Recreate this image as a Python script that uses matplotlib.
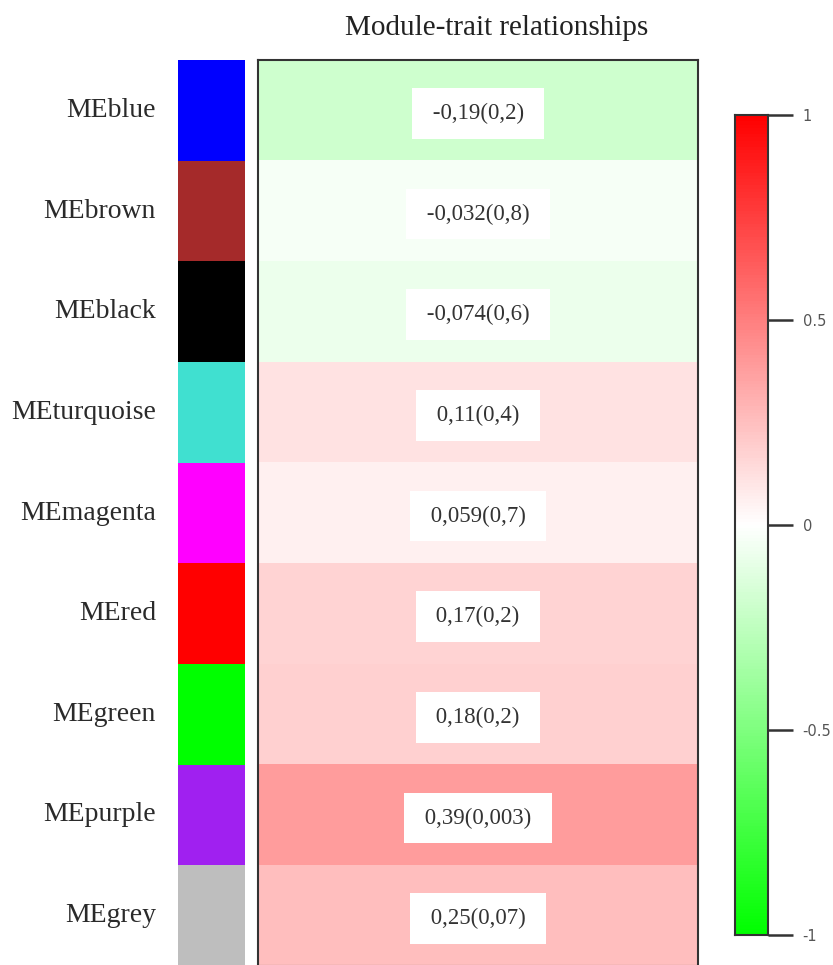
import matplotlib.pyplot as plt
import numpy as np
from matplotlib.colors import LinearSegmentedColormap

modules = ['MEblue', 'MEbrown', 'MEblack', 'MEturquoise', 'MEmagenta',
           'MEred', 'MEgreen', 'MEpurple', 'MEgrey']
module_colors = ['#0000ff', '#a52a2a', '#000000', '#40e0d0', '#ff00ff',
                 '#ff0000', '#00ff00', '#a020f0', '#bebebe']
cor = [-0.19, -0.032, -0.074, 0.11, 0.059, 0.17, 0.18, 0.39, 0.25]
pval = ['0,2', '0,8', '0,6', '0,4', '0,7', '0,2', '0,2', '0,003', '0,07']
cbar_ticks = [-1, -0.5, 0, 0.5, 1]

def fmt(v):
    s = f'{v:.3f}'.rstrip('0') if abs(v) < 0.1 else f'{v:.2f}'.rstrip('0')
    return s.replace('.', ',')

cmap = LinearSegmentedColormap.from_list('gwr', ['#00ff00', '#ffffff', '#ff0000'])
W, H = 833, 965
fig = plt.figure(figsize=(W / 100, H / 100), dpi=100)

def px_axes(x0, y0, x1, y1):
    return fig.add_axes([x0 / W, 1 - y1 / H, (x1 - x0) / W, (y1 - y0) / H])

n = len(modules)
serif = 'Liberation Serif'

# module colour strip
ax_c = px_axes(178, 60, 245, 966)
for i, c in enumerate(module_colors):
    ax_c.add_patch(plt.Rectangle((0, i), 1, 1, color=c, lw=0))
ax_c.set_xlim(0, 1)
ax_c.set_ylim(n, 0)
ax_c.axis('off')
for i, name in enumerate(modules):
    ax_c.text(-0.33, i + 0.5, name, ha='right', va='center',
              family=serif, fontsize=20, color='#2a2a2a')

# correlation heatmap
ax = px_axes(258, 60, 698, 966)
ax.imshow(np.array(cor).reshape(-1, 1), cmap=cmap, vmin=-1, vmax=1,
          aspect='auto', extent=(0, 1, n, 0))
for i, (r, p) in enumerate(zip(cor, pval)):
    ax.text(0.5, i + 0.53, f' {fmt(r)}({p}) ', ha='center', va='center',
            family=serif, fontsize=16.5, color='#333333',
            bbox=dict(boxstyle='square,pad=0.65', fc='white', ec='none'))
ax.set_xlim(0, 1)
ax.set_ylim(n, 0)
ax.set_xticks([])
ax.set_yticks([])
for s in ax.spines.values():
    s.set_linewidth(1.5)
    s.set_color('#333333')
fig.text(497 / W, 1 - 28 / H, 'Module-trait relationships', ha='center',
         va='center', family=serif, fontsize=21, color='#222222')

# colour key
ax_k = px_axes(735, 115, 768, 935)
grad = np.linspace(1, -1, 256).reshape(-1, 1)
ax_k.imshow(grad, cmap=cmap, vmin=-1, vmax=1, aspect='auto', extent=(0, 1, -1, 1))
ax_k.set_xticks([])
ax_k.yaxis.tick_right()
ax_k.set_yticks(cbar_ticks)
ax_k.set_yticklabels([str(t) for t in cbar_ticks])
ax_k.tick_params(axis='y', length=18, width=1.8, color='#333333',
                 labelsize=10.5, labelcolor='#555555', pad=7)
for s in ax_k.spines.values():
    s.set_linewidth(1.5)
    s.set_color('#333333')

fig.savefig('out.png', dpi=100)
